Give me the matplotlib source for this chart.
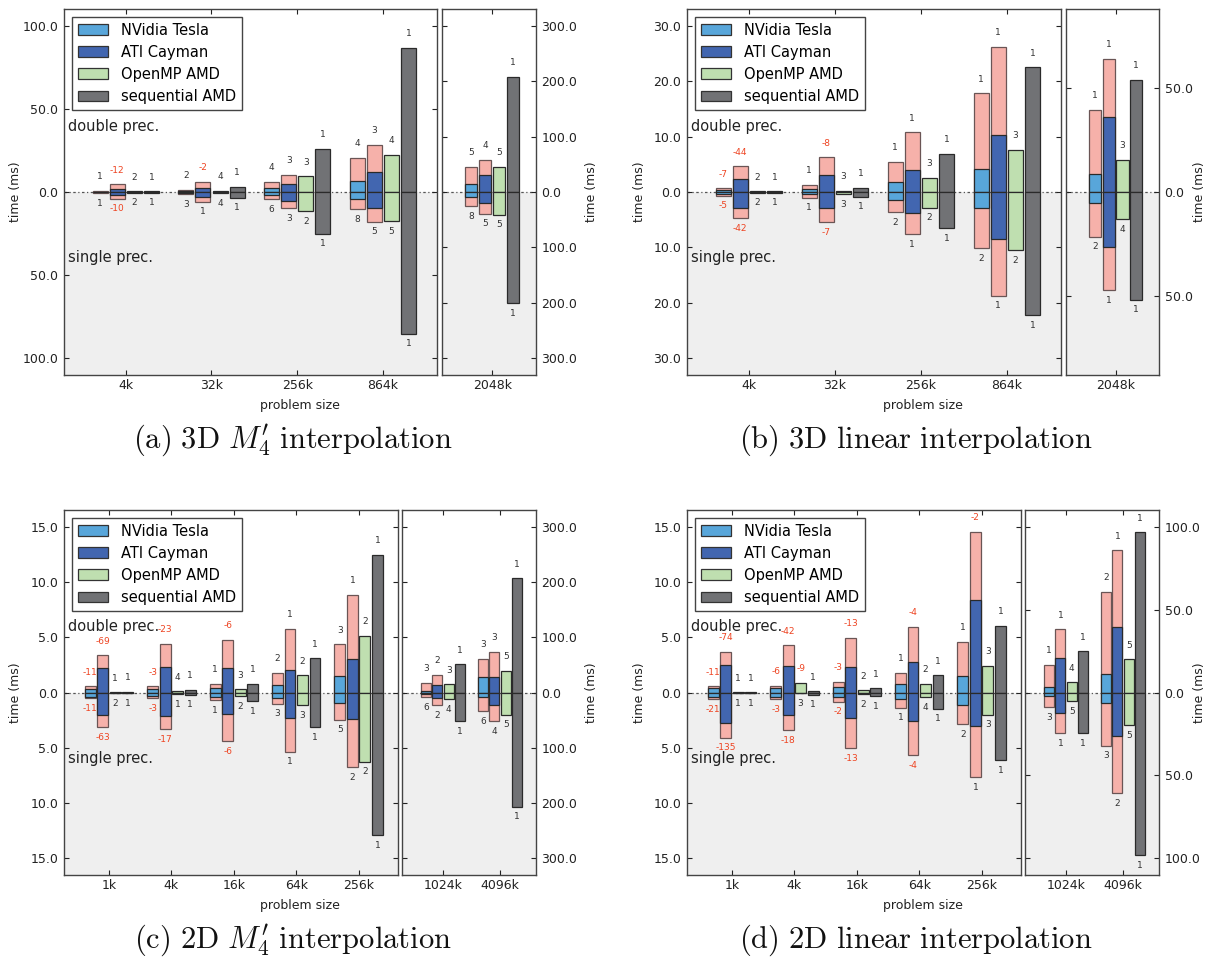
import matplotlib
matplotlib.use("Agg")
import matplotlib.pyplot as plt
from matplotlib.ticker import MultipleLocator, FuncFormatter
from matplotlib.patches import Patch

plt.rcParams['font.family'] = ['DejaVu Sans']
plt.rcParams['mathtext.fontset'] = 'cm'

DEVICES = ["NVidia Tesla", "ATI Cayman", "OpenMP AMD", "sequential AMD"]
COLORS = ["#58a6da", "#4266b0", "#bfdfb0", "#717275"]
PINK = "#f6b1aa"

# ---------------- panel (a) 3D M4' ----------------
A_SIZES = ["4k", "32k", "256k", "864k", "2048k"]
A_NMAIN = 4
# rows: NVidia, ATI, OpenMP, sequential  (compute time, ms)
A_DP = [[0.3, 0.8, 2.6, 6.8, 15.0],
        [1.6, 2.6, 5.0, 12.2, 30.0],
        [0.5, 0.7, 9.4, 22.5, 45.8],
        [0.5, 3.2, 26.1, 86.7, 208.0]]
A_SP = [[0.3, 0.8, 1.8, 4.2, 9.0],
        [2.0, 3.0, 5.6, 9.4, 19.0],
        [0.5, 0.9, 11.4, 17.5, 41.0],
        [0.5, 3.4, 25.1, 85.3, 200.6]]
# total time incl. transfer (GPUs only)
A_DP_TOT = [[0.7, 1.4, 6.2, 20.5, 45.8],
            [4.6, 6.2, 10.4, 28.3, 58.4]]
A_SP_TOT = [[0.7, 1.4, 4.4, 10.2, 25.3],
            [4.0, 5.8, 9.8, 17.9, 39.0]]
A_DP_LAB = [[1, 2, 4, 4, 5], [-12, -2, 3, 3, 4], [2, 4, 3, 4, 5], [1, 1, 1, 1, 1]]
A_SP_LAB = [[1, 3, 6, 8, 8], [-10, 1, 3, 5, 5], [2, 4, 2, 5, 5], [1, 1, 1, 1, 1]]
A_YMAX = (100, 300)
A_YSTEP = (50, 100)

# ---------------- panel (b) 3D linear ----------------
B_SIZES = ["4k", "32k", "256k", "864k", "2048k"]
B_NMAIN = 4
B_DP = [[0.36, 0.55, 1.8, 4.06, 8.8],
        [2.4, 3.15, 3.9, 10.3, 36.2],
        [0.12, 0.24, 2.6, 7.6, 15.6],
        [0.12, 0.8, 6.9, 22.5, 53.9]]
B_SP = [[0.3, 0.42, 1.45, 2.85, 5.5],
        [2.85, 2.8, 3.75, 8.55, 26.4],
        [0.12, 0.36, 2.85, 10.5, 13.2],
        [0.12, 0.85, 6.55, 22.2, 51.8]]
B_DP_TOT = [[0.73, 1.33, 5.5, 17.8, 39.5],
            [4.6, 6.24, 10.8, 26.2, 64.0]]
B_SP_TOT = [[0.67, 1.03, 3.6, 10.1, 21.4],
            [4.7, 5.4, 7.6, 18.7, 47.1]]
B_DP_LAB = [[-7, 1, 1, 1, 1], [-44, -8, 1, 1, 1], [2, 3, 3, 3, 3], [1, 1, 1, 1, 1]]
B_SP_LAB = [[-5, 1, 2, 2, 2], [-42, -7, 1, 1, 1], [2, 3, 2, 2, 4], [1, 1, 1, 1, 1]]
B_YMAX = (30, 80)
B_YSTEP = (10, 50)

# ---------------- panel (c) 2D M4' ----------------
C_SIZES = ["1k", "4k", "16k", "64k", "256k", "1024k", "4096k"]
C_NMAIN = 5
C_DP = [[0.36, 0.36, 0.42, 0.72, 1.45, 3.6, 28.9],
        [2.17, 2.29, 2.17, 2.05, 3.01, 14.4, 28.9],
        [0.05, 0.12, 0.3, 1.57, 5.15, 15.0, 39.7],
        [0.08, 0.24, 0.78, 3.1, 12.47, 51.0, 206.9]]
C_SP = [[0.39, 0.36, 0.39, 0.48, 0.93, 3.0, 9.0],
        [1.99, 2.1, 1.93, 2.35, 2.44, 10.8, 23.5],
        [0.05, 0.18, 0.36, 1.14, 6.27, 12.6, 40.3],
        [0.08, 0.21, 0.78, 3.16, 12.92, 52.3, 206.9]]
C_DP_TOT = [[0.57, 0.57, 0.81, 1.8, 4.37, 17.4, 60.7],
            [3.37, 4.4, 4.79, 5.75, 8.86, 31.9, 74.0]]
C_SP_TOT = [[0.54, 0.54, 0.69, 1.02, 2.47, 9.0, 34.3],
            [3.13, 3.34, 4.43, 5.36, 6.78, 22.8, 51.7]]
C_DP_LAB = [[-11, -3, 1, 2, 3, 3, 3], [-69, -23, -6, 1, 1, 2, 3],
            [1, 4, 3, 2, 2, 3, 5], [1, 1, 1, 1, 1, 1, 1]]
C_SP_LAB = [[-11, -3, 1, 3, 5, 6, 6], [-63, -17, -6, 1, 2, 2, 4],
            [2, 1, 2, 3, 2, 4, 5], [1, 1, 1, 1, 1, 1, 1]]
C_YMAX = (15, 300)
C_YSTEP = (5, 100)

# ---------------- panel (d) 2D linear ----------------
D_SIZES = ["1k", "4k", "16k", "64k", "256k", "1024k", "4096k"]
D_NMAIN = 5
D_DP = [[0.39, 0.39, 0.48, 0.78, 1.45, 3.4, 11.4],
        [2.5, 2.44, 2.29, 2.74, 8.4, 21.0, 39.7],
        [0.05, 0.9, 0.21, 0.78, 2.41, 6.2, 20.2],
        [0.05, 0.12, 0.39, 1.54, 6.05, 24.8, 96.6]]
D_SP = [[0.42, 0.42, 0.42, 0.63, 1.14, 2.4, 6.6],
        [2.8, 1.99, 2.35, 2.56, 3.07, 12.6, 26.5],
        [0.05, 0.09, 0.18, 0.45, 1.99, 5.4, 19.6],
        [0.05, 0.21, 0.36, 1.48, 6.14, 24.6, 98.0]]
D_DP_TOT = [[0.57, 0.63, 0.99, 1.8, 4.58, 16.8, 60.7],
            [3.67, 4.25, 4.97, 5.93, 14.55, 38.3, 85.6]]
D_SP_TOT = [[0.63, 0.63, 0.84, 1.36, 2.89, 9.0, 32.0],
            [4.07, 3.43, 5.03, 5.66, 7.68, 24.6, 60.7]]
D_DP_LAB = [[-11, -6, -3, 1, 1, 1, 2], [-74, -42, -13, -4, -2, 1, 1],
            [1, -9, 2, 2, 3, 4, 5], [1, 1, 1, 1, 1, 1, 1]]
D_SP_LAB = [[-21, -3, -2, 1, 2, 3, 3], [-135, -18, -13, -4, 1, 1, 2],
            [1, 3, 2, 4, 3, 5, 5], [1, 1, 1, 1, 1, 1, 1]]
D_YMAX = (15, 100)
D_YSTEP = (5, 50)

CAPTIONS = [r"$\mathrm{(a)\ 3D\ }M^{\prime}_{4}\mathrm{\ interpolation}$",
            r"$\mathrm{(b)\ 3D\ linear\ interpolation}$",
            r"$\mathrm{(c)\ 2D\ }M^{\prime}_{4}\mathrm{\ interpolation}$",
            r"$\mathrm{(d)\ 2D\ linear\ interpolation}$"]

W, H = 1211, 966
fig = plt.figure(figsize=(W / 100, H / 100), dpi=100)
fig.patch.set_facecolor("white")

OFFS = [-0.3, -0.1, 0.1, 0.3]
BW = 0.175
EDGE = "#2a2a2a"
EDGE_PINK = "#6a5555"
POSC = "#333333"
NEGC = "#ee4422"


def px_axes(l, t, r, b):
    return fig.add_axes([l / W, 1 - b / H, (r - l) / W, (b - t) / H])


def fmt(v, pos):
    return "%.1f" % abs(v)


def style_axes(ax, ymax, ystep, ntick, labels, main):
    lim = 1.1 * ymax
    ax.set_ylim(-lim, lim)
    ax.set_xlim(-0.72, ntick - 1 + 0.63)
    ax.axhspan(-lim, 0, color="#efefef", zorder=0, lw=0)
    ax.axhline(0, color="#555555", lw=0.9, ls=(0, (2, 2, 1, 2)), zorder=1)
    ax.yaxis.set_major_locator(MultipleLocator(ystep))
    ax.yaxis.set_major_formatter(FuncFormatter(fmt))
    ax.set_xticks(range(ntick))
    ax.set_xticklabels(labels)
    ax.tick_params(direction="in", top=True, right=True, left=True,
                   length=3.5, width=0.8, labelsize=9, pad=4, colors="#222222")
    ax.tick_params(axis="x", pad=3)
    if main:
        ax.tick_params(labelleft=True, labelright=False)
    else:
        ax.tick_params(labelleft=False, labelright=True)
    for s in ax.spines.values():
        s.set_color("#444444")
        s.set_linewidth(1.0)


def draw_bars(ax, idxs, DP, SP, DPT, SPT, DPL, SPL):
    for k, i in enumerate(idxs):
        for d in range(4):
            x = k + OFFS[d]
            up = DP[d][i]
            dn = SP[d][i]
            top, bot = up, dn
            if d < 2:
                ax.bar(x, DPT[d][i], BW, bottom=0, color=PINK,
                       edgecolor=EDGE_PINK, lw=0.9, zorder=2)
                ax.bar(x, -SPT[d][i], BW, bottom=0, color=PINK,
                       edgecolor=EDGE_PINK, lw=0.9, zorder=2)
                top = max(top, DPT[d][i])
                bot = max(bot, SPT[d][i])
            ax.bar(x, up, BW, bottom=0, color=COLORS[d], edgecolor=EDGE,
                   lw=0.9, zorder=3)
            ax.bar(x, -dn, BW, bottom=0, color=COLORS[d], edgecolor=EDGE,
                   lw=0.9, zorder=3)
            lu = DPL[d][i]
            ll = SPL[d][i]
            ax.annotate(str(lu), (x, top), xytext=(0, 6.8),
                        textcoords="offset points", ha="center", va="bottom",
                        fontsize=6.5, color=NEGC if lu < 0 else POSC, zorder=5)
            ax.annotate(str(ll), (x, -bot), xytext=(0, -4.0),
                        textcoords="offset points", ha="center", va="top",
                        fontsize=6.5, color=NEGC if ll < 0 else POSC, zorder=5)


PANELS = [
    (A_SIZES, A_NMAIN, A_DP, A_SP, A_DP_TOT, A_SP_TOT, A_DP_LAB, A_SP_LAB, A_YMAX, A_YSTEP),
    (B_SIZES, B_NMAIN, B_DP, B_SP, B_DP_TOT, B_SP_TOT, B_DP_LAB, B_SP_LAB, B_YMAX, B_YSTEP),
    (C_SIZES, C_NMAIN, C_DP, C_SP, C_DP_TOT, C_SP_TOT, C_DP_LAB, C_SP_LAB, C_YMAX, C_YSTEP),
    (D_SIZES, D_NMAIN, D_DP, D_SP, D_DP_TOT, D_SP_TOT, D_DP_LAB, D_SP_LAB, D_YMAX, D_YSTEP),
]

# pixel layout: (main l, r), (extra l, r), top, bottom, ylabel-left x, ylabel-right x, caption x
LAYOUT = [
    ((64, 437), (442, 536), 9, 375, 15, 591, 293),
    ((687, 1061), (1066, 1159), 9, 375, 640, 1200, 916),
    ((64, 398), (402, 536), 510, 875, 15, 591, 293),
    ((687, 1021), (1025, 1159), 510, 875, 640, 1200, 916),
]

for p, (sizes, nmain, DP, SP, DPT, SPT, DPL, SPL, ymax, ystep) in enumerate(PANELS):
    (ml, mr), (el, er), top, bot, ylx, yrx, capx = LAYOUT[p]
    axm = px_axes(ml, top, mr, bot)
    axe = px_axes(el, top, er, bot)
    nextra = len(sizes) - nmain
    style_axes(axm, ymax[0], ystep[0], nmain, sizes[:nmain], True)
    style_axes(axe, ymax[1], ystep[1], nextra, sizes[nmain:], False)
    draw_bars(axm, list(range(nmain)), DP, SP, DPT, SPT, DPL, SPL)
    draw_bars(axe, list(range(nmain, len(sizes))), DP, SP, DPT, SPT, DPL, SPL)

    handles = [Patch(facecolor=c, edgecolor="#333333", lw=0.9) for c in COLORS]
    leg = axm.legend(handles, DEVICES, loc="upper left", fontsize=10.5,
                     handlelength=2.1, handleheight=0.75, handletextpad=0.85,
                     labelspacing=0.49, borderpad=0.4, borderaxespad=0.53,
                     fancybox=False, framealpha=1, edgecolor="#444444")
    leg.get_frame().set_linewidth(1.0)
    leg.set_zorder(10)

    h = bot - top
    fig.text((ml + 4) / W, 1 - (top + 0.32 * h) / H, "double prec.",
             ha="left", va="center", fontsize=10.5, color="#222222")
    fig.text((ml + 4) / W, 1 - (top + 0.68 * h) / H, "single prec.",
             ha="left", va="center", fontsize=10.5, color="#222222")

    cy = (top + bot) / 2
    fig.text(ylx / W, 1 - cy / H, "time (ms)", rotation=90, ha="center",
             va="center", fontsize=9, color="#222222")
    fig.text(yrx / W, 1 - cy / H, "time (ms)", rotation=90, ha="center",
             va="center", fontsize=9, color="#222222")
    fig.text(((ml + er) / 2) / W, 1 - (bot + 31) / H, "problem size",
             ha="center", va="center", fontsize=9, color="#222222")
    fig.text(capx / W, 1 - (bot + 65) / H, CAPTIONS[p], ha="center",
             va="center", fontsize=22, color="#111111")

fig.savefig("out.png", dpi=100, facecolor="white")
